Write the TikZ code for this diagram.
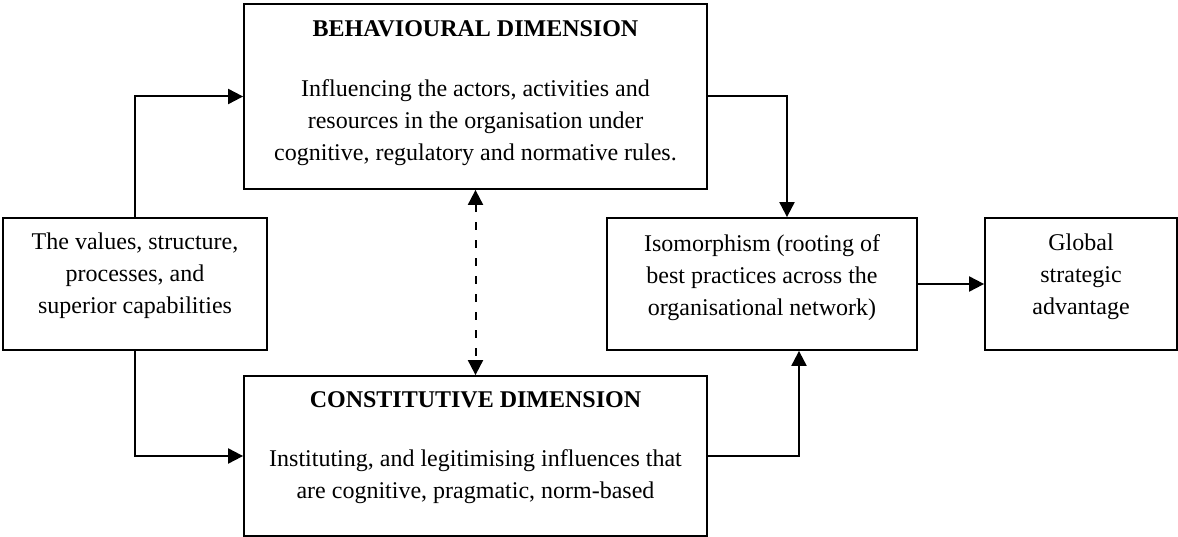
\documentclass[tikz,border=0pt]{standalone}
\usepackage{fontspec}
\setmainfont{Liberation Serif}
\usetikzlibrary{arrows.meta}
\begin{document}
\begin{tikzpicture}[x=1pt,y=-1pt,
  box/.style={draw, line width=1.8pt, inner sep=0pt},
  txt/.style={font=\fontsize{24}{32}\selectfont, align=center, inner sep=0pt, anchor=north},
  ttl/.style={font=\fontsize{24}{32}\selectfont\bfseries, inner sep=0pt, anchor=base},
  arr/.style={line width=2pt, -{Triangle[length=15pt,width=15pt]}},
  dasharr/.style={line width=2pt, dash pattern=on 8pt off 10pt,
    {Triangle[length=15pt,width=15pt]}-{Triangle[length=15pt,width=15pt]}},
]
\useasboundingbox (0,0) rectangle (1178,537);

% boxes
\node[box, minimum width=463pt, minimum height=185pt] (beh) at (475.5,96.5) {};
\node[box, minimum width=463pt, minimum height=160pt] (con) at (475.5,456) {};
\node[box, minimum width=264pt, minimum height=132pt] (val) at (135,284) {};
\node[box, minimum width=310pt, minimum height=132pt] (iso) at (762,284) {};
\node[box, minimum width=192pt, minimum height=132pt] (glob) at (1081,284) {};

% texts
\node[ttl] (behT) at ([yshift=-33pt]beh.north) {BEHAVIOURAL DIMENSION};
\node[txt] (behB) at ([yshift=-76.5pt]beh.north) {Influencing the actors, activities and\\resources in the organisation under\\cognitive, regulatory and normative rules.};
\node[ttl] (conT) at ([yshift=-32pt]con.north) {CONSTITUTIVE DIMENSION};
\node[txt] (conB) at ([yshift=-74.5pt]con.north) {Instituting, and legitimising influences that\\are cognitive, pragmatic, norm-based};
\node[txt] (valB) at ([yshift=-15.5pt]val.north) {The values, structure,\\processes, and\\superior capabilities};
\node[txt] (isoB) at ([yshift=-17pt]iso.north) {Isomorphism (rooting of\\best practices across the\\organisational network)};
\node[txt] (globB) at ([yshift=-16.5pt]glob.north) {Global\\strategic\\advantage};

% connectors
\draw[arr] (val.north) |- (beh.west);
\draw[arr] (val.south) |- (con.west);
\draw[arr] (beh.east) -| ([xshift=25pt]iso.north);
\draw[arr] (con.east) -| ([xshift=37pt]iso.south);
\draw[arr] (iso.east) -- (glob.west);
\draw[dasharr] (beh.south) -- (con.north);
\end{tikzpicture}
\end{document}
